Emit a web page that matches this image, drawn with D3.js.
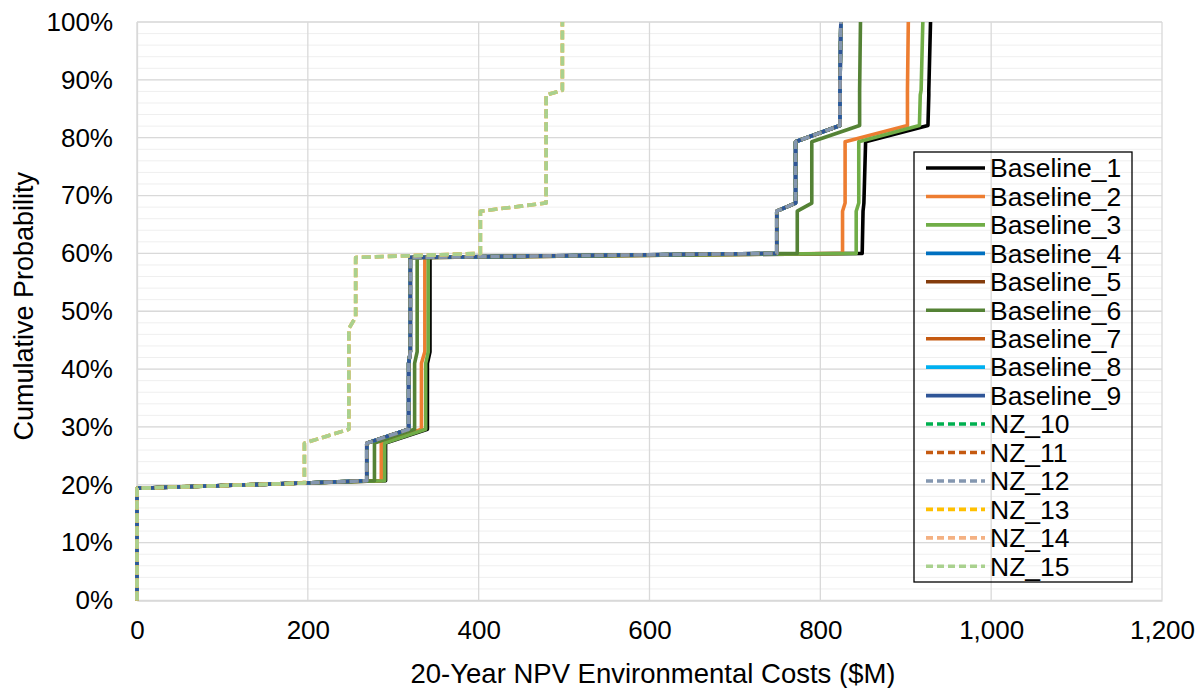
<!DOCTYPE html>
<html>
<head>
<meta charset="utf-8">
<script src="https://cdn.jsdelivr.net/npm/d3@7"></script>
<style>
  body { margin: 0; background: #fff; }
  text { font-family: "Liberation Sans", Arial, sans-serif; fill: #000; }
</style>
</head>
<body>
<svg id="chart" width="1204" height="688"></svg>
<script>
// Cumulative probability levels shared by every scenario curve
const probLevels = [0, 0.194, 0.203, 0.207, 0.272, 0.296, 0.41, 0.43, 0.47, 0.49, 0.593, 0.600, 0.673, 0.687, 0.793, 0.821, 0.874, 0.882, 1.0];

// 20-year NPV environmental cost ($M) reached at each probability level
const baseline1 = [0, 0, 196, 291, 291, 340, 340, 343, 343, 343, 343, 849, 850, 851, 853, 926, 927, 927, 929];
const baseline2 = [0, 0, 196, 286, 286, 333, 333, 337, 337, 337, 337, 826, 826, 829, 829, 902, 902, 902, 903];
const baseline3 = [0, 0, 196, 290, 290, 338, 338, 341, 341, 341, 341, 842, 842, 845, 845, 916, 917, 918, 920];
const baseline4 = [0, 0, 196, 269, 269, 318, 318, 320, 320, 320, 320, 749, 749, 771, 771, 823, 823, 823, 824];
const baseline5 = [0, 0, 196, 269, 269, 318, 318, 320, 320, 320, 320, 749, 749, 771, 771, 823, 823, 823, 824];
const baseline6 = [0, 0, 196, 278, 278, 325, 325, 328, 328, 328, 328, 773, 773, 790, 790, 846, 846, 846, 847];
const baseline7 = [0, 0, 196, 269, 269, 318, 318, 320, 320, 320, 320, 749, 749, 771, 771, 823, 823, 823, 824];
const baseline8 = [0, 0, 196, 269, 269, 318, 318, 320, 320, 320, 320, 749, 749, 771, 771, 823, 823, 823, 824];
const baseline9 = [0, 0, 196, 269, 269, 318, 318, 320, 320, 320, 320, 749, 749, 771, 771, 823, 823, 823, 824];
const nz10 = [0, 0, 196, 269, 269, 318, 318, 320, 320, 320, 320, 749, 749, 771, 771, 823, 823, 823, 824];
const nz11 = [0, 0, 196, 269, 269, 318, 318, 320, 320, 320, 320, 749, 749, 771, 771, 823, 823, 823, 824];
const nz12 = [0, 0, 196, 269, 269, 318, 318, 320, 320, 320, 320, 749, 749, 771, 771, 823, 823, 823, 824];
const nz13 = [0, 0, 196, 196, 196, 248, 248, 248, 248, 256, 256, 402, 402, 479, 479, 479, 479, 498, 498];
const nz14 = [0, 0, 196, 196, 196, 248, 248, 248, 248, 256, 256, 402, 402, 479, 479, 479, 479, 498, 498];
const nz15 = [0, 0, 196, 196, 196, 248, 248, 248, 248, 256, 256, 402, 402, 479, 479, 479, 479, 498, 498];

const seriesNames = ["Baseline_1", "Baseline_2", "Baseline_3", "Baseline_4", "Baseline_5", "Baseline_6", "Baseline_7", "Baseline_8", "Baseline_9",
                     "NZ_10", "NZ_11", "NZ_12", "NZ_13", "NZ_14", "NZ_15"];
const seriesValues = [baseline1, baseline2, baseline3, baseline4, baseline5, baseline6, baseline7, baseline8, baseline9,
                      nz10, nz11, nz12, nz13, nz14, nz15];
const seriesColors = ["#000000", "#ED7D31", "#70AD47", "#0070C0", "#843C0C", "#548235", "#C55A11", "#00B0F0", "#2F5597",
                      "#00B050", "#C55A11", "#8497B0", "#FFC000", "#F4B183", "#A9D18E"];
const seriesDashed = [false, false, false, false, false, false, false, false, false, true, true, true, true, true, true];

const xTicks = [0, 200, 400, 600, 800, 1000, 1200];
const yTicks = [0, 0.1, 0.2, 0.3, 0.4, 0.5, 0.6, 0.7, 0.8, 0.9, 1.0];
const yMinorTicks = d3.range(0, 1.0001, 0.02);

const svg = d3.select("#chart");
const plot = { left: 137, right: 1162, top: 22, bottom: 600.5 };

const x = d3.scaleLinear().domain([0, 1200]).range([plot.left, plot.right]);
const y = d3.scaleLinear().domain([0, 1]).range([plot.bottom, plot.top]);

// Minor horizontal gridlines every 2%
svg.append("g").selectAll("line").data(yMinorTicks).join("line")
  .attr("x1", plot.left).attr("x2", plot.right)
  .attr("y1", d => y(d)).attr("y2", d => y(d))
  .attr("stroke", "#efefef").attr("stroke-width", 1);

// Major gridlines
svg.append("g").selectAll("line").data(yTicks).join("line")
  .attr("x1", plot.left).attr("x2", plot.right)
  .attr("y1", d => y(d)).attr("y2", d => y(d))
  .attr("stroke", "#d9d9d9").attr("stroke-width", 1.3);
svg.append("g").selectAll("line").data(xTicks).join("line")
  .attr("x1", d => x(d)).attr("x2", d => x(d))
  .attr("y1", plot.top).attr("y2", plot.bottom)
  .attr("stroke", "#d9d9d9").attr("stroke-width", 1.3);

// Axes (labels only)
const xAxis = d3.axisBottom(x).tickValues(xTicks).tickSize(0).tickPadding(20)
  .tickFormat(d3.format(","));
svg.append("g").attr("transform", `translate(0,${plot.bottom})`).call(xAxis)
  .call(g => g.select(".domain").attr("stroke", "#d9d9d9").attr("stroke-width", 1.3))
  .selectAll("text").attr("font-size", 26).attr("font-family", "Liberation Sans, Arial, sans-serif").attr("fill", "#000");

const yAxis = d3.axisLeft(y).tickValues(yTicks).tickSize(0).tickPadding(24)
  .tickFormat(d3.format(".0%"));
svg.append("g").attr("transform", `translate(${plot.left},0)`).call(yAxis)
  .call(g => g.select(".domain").attr("stroke", "#d9d9d9").attr("stroke-width", 1.3))
  .selectAll("text").attr("font-size", 26).attr("font-family", "Liberation Sans, Arial, sans-serif").attr("fill", "#000");

// Axis titles
svg.append("text")
  .attr("x", 653).attr("y", 683)
  .attr("text-anchor", "middle").attr("font-size", 27.5)
  .text("20-Year NPV Environmental Costs ($M)");
svg.append("text")
  .attr("transform", `translate(33,${(plot.top + plot.bottom) / 2 - 5}) rotate(-90)`)
  .attr("text-anchor", "middle").attr("font-size", 27)
  .text("Cumulative Probability");

// Cumulative distribution curves
const line = d3.line()
  .x(d => x(d[0]))
  .y(d => y(d[1]));

const curves = seriesNames.map((name, i) => ({
  name,
  color: seriesColors[i],
  dashed: seriesDashed[i],
  points: seriesValues[i].map((v, j) => [v, probLevels[j]])
}));

svg.append("g").selectAll("path").data(curves).join("path")
  .attr("d", d => line(d.points))
  .attr("fill", "none")
  .attr("stroke", d => d.color)
  .attr("stroke-width", 3.6)
  .attr("stroke-linejoin", "round")
  .attr("stroke-dasharray", d => d.dashed ? "9,4" : null);

// Legend
const legend = { x: 914, y: 152, w: 218, h: 430, rowStart: 168, rowStep: 28.45 };
svg.append("rect")
  .attr("x", legend.x).attr("y", legend.y)
  .attr("width", legend.w).attr("height", legend.h)
  .attr("fill", "none").attr("stroke", "#000").attr("stroke-width", 1.3);

const items = svg.append("g").selectAll("g").data(curves).join("g")
  .attr("transform", (d, i) => `translate(0,${legend.rowStart + i * legend.rowStep})`);
items.append("line")
  .attr("x1", 926).attr("x2", 985).attr("y1", 0).attr("y2", 0)
  .attr("stroke", d => d.color).attr("stroke-width", 3.6)
  .attr("stroke-dasharray", d => d.dashed ? "7,4" : null);
items.append("text")
  .attr("x", 990).attr("y", 0).attr("dy", "0.35em")
  .attr("font-size", 26.5)
  .text(d => d.name);
</script>
</body>
</html>
